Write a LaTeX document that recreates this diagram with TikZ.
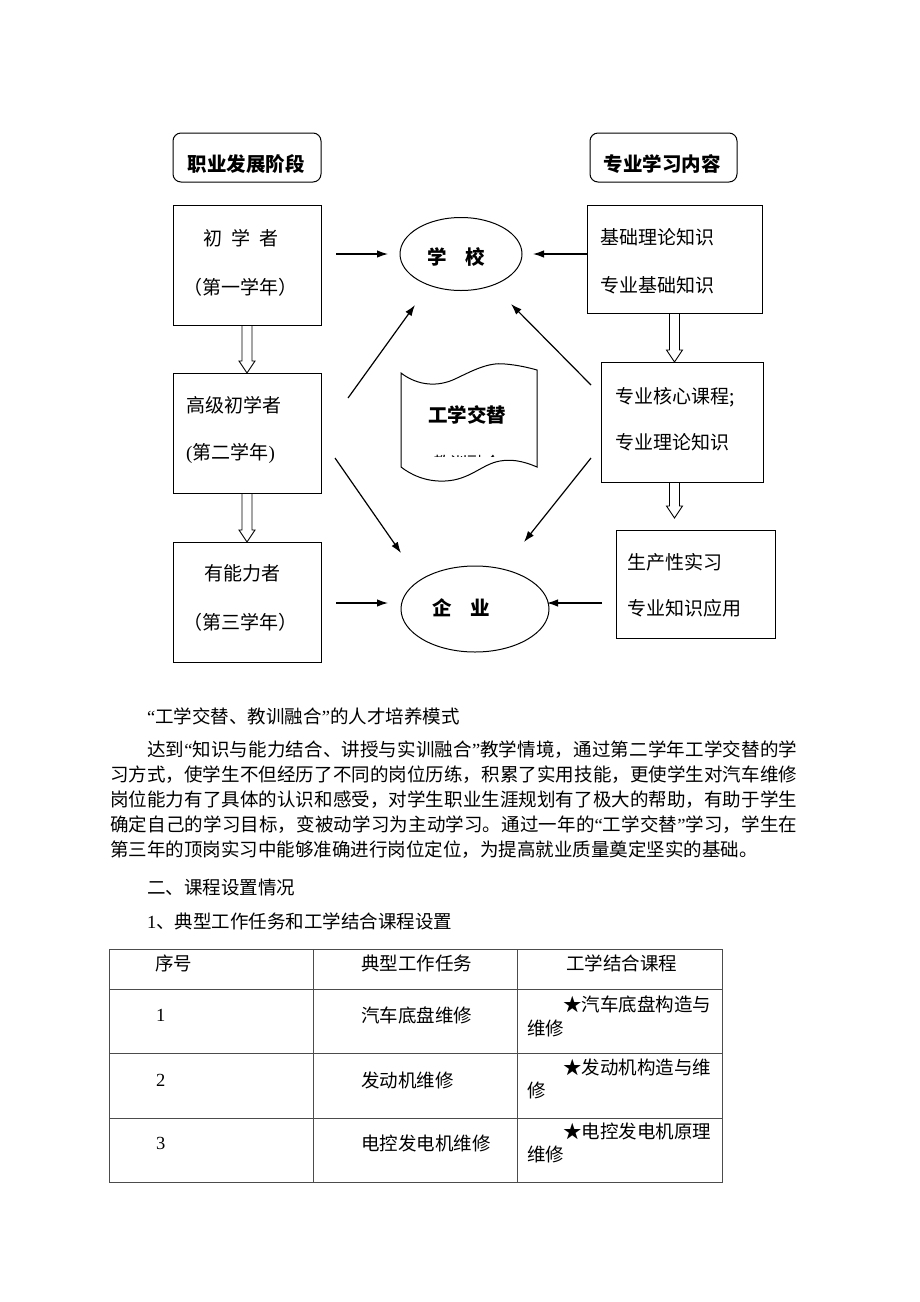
\documentclass[tikz,border=0pt]{standalone}
\usepackage{fontspec}
\setmainfont{Noto Sans CJK SC}
\newfontfamily\latin{Liberation Serif}
\usetikzlibrary{calc,positioning}
\usetikzlibrary{arrows.meta,shapes.geometric}
\XeTeXlinebreaklocale "zh"
\XeTeXlinebreakskip = 0pt plus 1pt
\def\totalwidth{920}
\def\totalheight{1302}
\def\ptext{\fontsize{18.5pt}{25pt}\selectfont}
\def\dtext{\fontsize{19pt}{23pt}\selectfont}
\def\btext{\fontsize{19.5pt}{23pt}\selectfont\bfseries}
\newcommand{\oq}{{\latin “}}
\newcommand{\cq}{{\latin ”}}
\tikzstyle{stage}                = [draw,line width=1pt,anchor=north west,
                                    inner sep=0pt,outer sep=0pt]
\tikzstyle{heading}              = [stage,rounded corners=8pt]
\tikzstyle{place}                = [draw,ellipse,line width=1pt,inner sep=0pt,
                                    outer sep=0pt]
\tikzstyle{word}                 = [inner sep=0pt,anchor=west,font=\dtext]
\tikzstyle{grid}                 = [line width=1pt,black!70]
\tikzset{flow/.style={-{Latex[length=11pt,width=7.5pt]},line width=1.2pt}
}
\newcommand{\openarrow}[2]{%
  \draw[line width=0.9pt,line join=miter] ($(#1)+(-5,0)$) -- ($(#2)+(-5,-12)$)
       -- ($(#2)+(-8,-12)$) -- (#2) -- ($(#2)+(8,-12)$) -- ($(#2)+(5,-12)$)
       -- ($(#1)+(5,0)$);
}

\begin{document}
\begin{tikzpicture}[x=1pt,y=-1pt]
        \useasboundingbox[fill=white] (0,0) rectangle (\totalwidth,\totalheight);

        % Headings
        \node[heading,minimum width=148pt,minimum height=49pt] (stages) at (173,133) {};
        \node[heading,minimum width=147pt,minimum height=49pt] (topics) at (590,133) {};
        \node[word,anchor=center,font=\btext] (stagesT) at (246,164) {职业发展阶段};
        \node[word,anchor=center,font=\btext] (topicsT) at (662,164) {专业学习内容};

        % Left column: stages
        \node[stage,minimum width=148pt,minimum height=120pt] (b1) at (173,205) {};
        \node[stage,minimum width=148pt,minimum height=120pt] (b2) at (173,373) {};
        \node[stage,minimum width=148pt,minimum height=120pt] (b3) at (173,542) {};
        \node[word,anchor=center] (b1a) at (241,238) {初\hspace{9pt}学\hspace{9pt}者};
        \node[word,anchor=center] (b1b) at (240,287) {（第一学年）};
        \node[word] (b2a) at (186,405) {高级初学者};
        \node[word] (b2b) at (186,453) {{\latin (}第二学年{\latin )}};
        \node[word,anchor=center] (b3a) at (242,573) {有能力者};
        \node[word,anchor=center] (b3b) at (240,622) {（第三学年）};

        \openarrow{b1.south}{b2.north}
        \openarrow{b2.south}{b3.north}

        % Right column: contents
        \node[stage,minimum width=175pt,minimum height=108pt] (k1) at (587,205) {};
        \node[stage,minimum width=162pt,minimum height=120pt] (k2) at (601,362) {};
        \node[stage,minimum width=159pt,minimum height=108pt] (k3) at (616,530) {};
        \node[word] (k1a) at (600,237) {基础理论知识};
        \node[word] (k1b) at (600,285) {专业基础知识};
        \node[word] (k2a) at (615,397) {专业核心课程;};
        \node[word] (k2b) at (615,442) {专业理论知识};
        \node[word] (k3a) at (627,562) {生产性实习};
        \node[word] (k3b) at (627,608) {专业知识应用};

        \coordinate (k2top) at (k1.south |- k2.north);
        \coordinate (k2bot) at (k1.south |- k2.south);
        \coordinate (k3top) at ($(k1.south |- k3.north)+(0,-12)$);
        \openarrow{k1.south}{k2top}
        \openarrow{k2bot}{k3top}

        % Places
        \node[place,minimum width=122pt,minimum height=73pt] (school) at (461,254) {};
        \node[place,minimum width=148pt,minimum height=86pt] (firm) at (475,609) {};
        \node[word,anchor=center,font=\btext] (schoolT) at (456,257) {学\hspace{18pt}校};
        \node[word,anchor=center,font=\btext] (firmT) at (461,608) {企\hspace{18pt}业};

        \draw[flow,shorten <=15pt,shorten >=12pt] (b1.east |- school.west) -- (school.west);
        \draw[flow,shorten >=11pt] (k1.west |- school.east) -- (school.east);
        \draw[flow,shorten <=15pt,shorten >=13pt] (b3.east |- 0,603) -- (firm.west |- 0,603);
        \draw[flow,shorten <=14pt,shorten >=-2pt] (k3.west |- 0,603) -- (firm.east |- 0,603);

        % Diagonals
        \coordinate (d1s) at (348,398);
        \coordinate (d1e) at (415,305);
        \coordinate (d2s) at (591,385);
        \coordinate (d2e) at (511,304);
        \coordinate (d3s) at (335,458);
        \coordinate (d3e) at (401,553);
        \coordinate (d4s) at (591,458);
        \coordinate (d4e) at (524,542);
        \foreach \s/\e in {d1s/d1e,d2s/d2e,d3s/d3e,d4s/d4e}
            \draw[flow] (\s) -- (\e);

        % Scroll
        \draw[line width=1pt] (401,373) .. controls (418,386) and (438,387) .. (455,379)
              .. controls (472,371) and (488,362) .. (505,364)
              .. controls (518,365) and (530,368) .. (537,370)
              -- (537,467)
              .. controls (530,464) and (515,458) .. (500,461)
              .. controls (482,464) and (470,480) .. (445,481)
              .. controls (425,482) and (410,474) .. (401,467) -- cycle;
        \node[word,anchor=center,font=\btext] (alt) at (467,415) {工学交替};
        \begin{scope}
            \clip (428,451) rectangle (506,456);
            \node[word,anchor=center,font=\fontsize{17pt}{20pt}\selectfont] (alt2) at (467,463) {教训融合};
        \end{scope}

        % Text below
        \node[word,font=\ptext] (title) at (147,716) {\oq 工学交替、教训融合\cq 的人才培养模式};
        \node[anchor=north west,inner sep=0pt,text width=687pt,align=justify,font=\ptext] (para) at (110,741) {%
\hspace*{37pt}达到\oq 知识与能力结合、讲授与实训融合\cq 教学情境，通过第二学年工学交替的学\linebreak
习方式，使学生不但经历了不同的岗位历练，积累了实用技能，更使学生对汽车维修\linebreak
岗位能力有了具体的认识和感受，对学生职业生涯规划有了极大的帮助，有助于学生\linebreak
确定自己的学习目标，变被动学习为主动学习。通过一年的\oq 工学交替\cq 学习，学生在\linebreak
第三年的顶岗实习中能够准确进行岗位定位，为提高就业质量奠定坚实的基础。};
        \node[word,font=\ptext] (sec) at (147,887) {二、课程设置情况};
        \node[word,font=\ptext] (sub) at (147,921) {{\latin 1}、典型工作任务和工学结合课程设置};

        % Table
        \draw[grid] (109,949) rectangle (722,1182);
        \foreach \y in {989,1053,1118}
            \draw[grid] (109,\y) -- (722,\y);
        \foreach \x in {313,517}
            \draw[grid] (\x,949) -- (\x,1182);
        \node[word,font=\ptext] (h1) at (155,963) {序号};
        \node[word,font=\ptext] (h2) at (361,963) {典型工作任务};
        \node[word,font=\ptext] (h3) at (566,963) {工学结合课程};
        \node[word,font=\ptext] (n1) at (156,1015) {\latin 1};
        \node[word,font=\ptext] (n2) at (156,1080) {\latin 2};
        \node[word,font=\ptext] (n3) at (156,1143) {\latin 3};
        \node[word,font=\ptext] (w1) at (361,1015) {汽车底盘维修};
        \node[word,font=\ptext] (w2) at (361,1080) {发动机维修};
        \node[word,font=\ptext] (w3) at (361,1143) {电控发电机维修};
        \node[word,font=\ptext] (c1a) at (563,1004) {★汽车底盘构造与};
        \node[word,font=\ptext] (c1b) at (527,1028) {维修};
        \node[word,font=\ptext] (c2a) at (563,1067) {★发动机构造与维};
        \node[word,font=\ptext] (c2b) at (527,1090) {修};
        \node[word,font=\ptext] (c3a) at (563,1131) {★电控发电机原理};
        \node[word,font=\ptext] (c3b) at (527,1154) {维修};
    \end{tikzpicture}
\end{document}
